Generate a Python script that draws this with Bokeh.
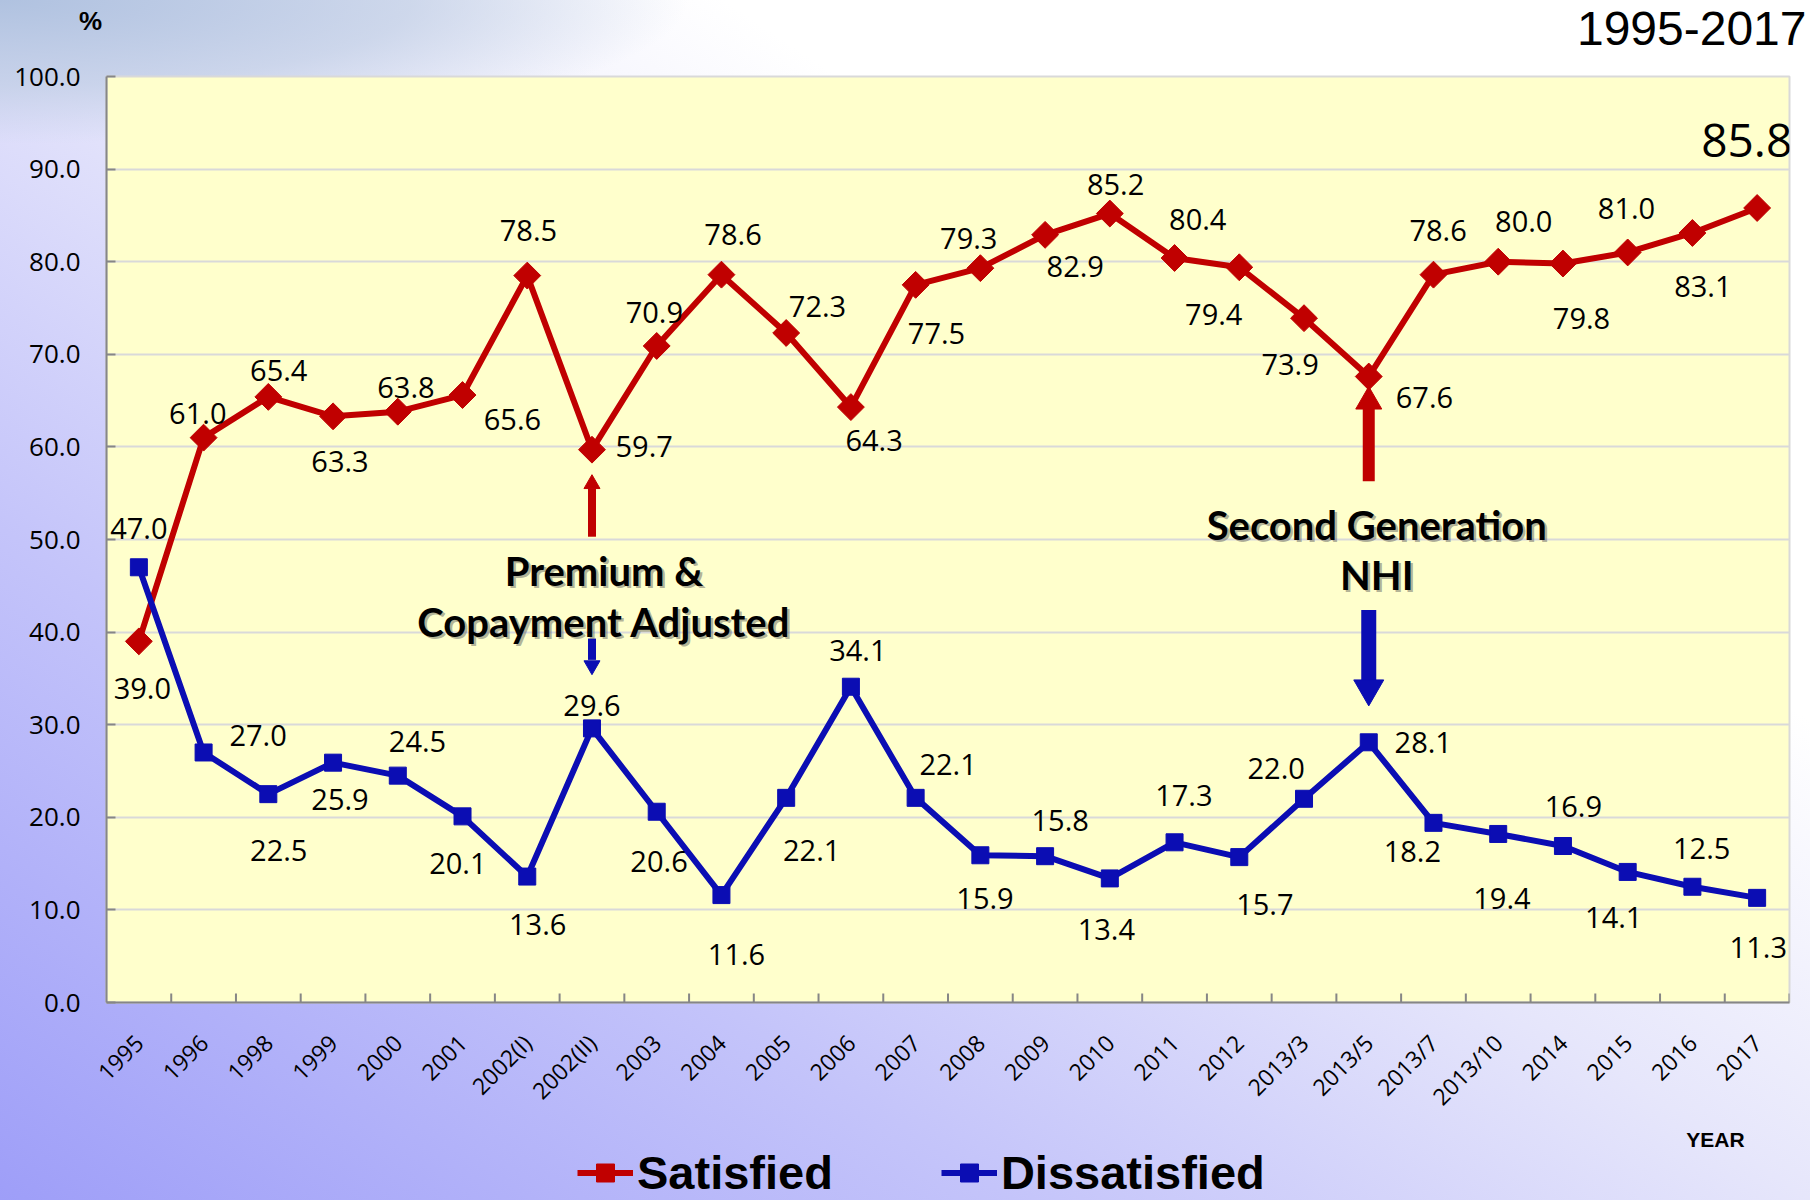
import math
from bokeh.plotting import figure
from bokeh.layouts import column
from bokeh.models import (FactorRange, Range1d, Legend, LegendItem,
                          ColumnDataSource, FixedTicker)
from bokeh.core.properties import value
from bokeh.embed import file_html
from bokeh.resources import INLINE

# ---------------- data ----------------
years = ["1995", "1996", "1998", "1999", "2000", "2001", "2002(I)", "2002(II)",
         "2003", "2004", "2005", "2006", "2007", "2008", "2009", "2010", "2011",
         "2012", "2013/3", "2013/5", "2013/7", "2013/10", "2014", "2015", "2016", "2017"]
satisfied = [39.0, 61.0, 65.4, 63.3, 63.8, 65.6, 78.5, 59.7, 70.9, 78.6, 72.3, 64.3,
             77.5, 79.3, 82.9, 85.2, 80.4, 79.4, 73.9, 67.6, 78.6, 80.0, 79.8, 81.0,
             83.1, 85.8]
dissatisfied = [47.0, 27.0, 22.5, 25.9, 24.5, 20.1, 13.6, 29.6, 20.6, 11.6, 22.1, 34.1,
                22.1, 15.9, 15.8, 13.4, 17.3, 15.7, 22.0, 28.1, 19.4, 18.2, 16.9, 14.1,
                12.5, 11.3]
y_ticks = [0, 10, 20, 30, 40, 50, 60, 70, 80, 90, 100]

# ------------- label placement (screen px offsets, reference scale) -------------
S = 1819 / 1568
sat_off = [(3, 41), (-5, -21), (9, -23), (6, 39), (7, -21), (43, 21), (1, -39), (45, -3),
           (-2, -29), (10, -35), (27, -23), (20, 29), (18, 42), (-10, -26), (26, 27),
           (5, -25), (20, -33), (-22, 41), (-12, 40), (48, 18), (4, -38), (22, -35),
           (16, 47), (-1, -38), (9, 46), (-9, -58)]
dis_off = [(0, -33), (47, -15), (9, 49), (6, 32), (17, -29), (-4, 41), (9, 41), (0, -20),
           (2, 43), (13, 51), (22, 45), (6, -31), (28, -29), (4, 37), (13, -31), (-3, 44),
           (8, -40), (22, 41), (-24, -26), (47, 0), (59, 65), (-74, 15), (9, -34),
           (-12, 39), (8, -33), (1, 43)]

RED = "#c00000"
BLUE = "#0b0db3"
LABEL_FONT = value("Open Sans")

W = 1810
TOP_H, MAIN_H = 56, 1071
LEG_H = 1200 - TOP_H - MAIN_H          # 73


def no_align(f):
    try:
        f.frame_align = False
    except AttributeError:
        pass
    return f


def strip(height, y_top):
    """A transparent helper strip whose data coordinates are page pixels."""
    f = figure(width=W, height=height, x_range=Range1d(0, W),
               y_range=Range1d(y_top + height, y_top), output_backend="svg",
               toolbar_location=None, x_axis_location=None, y_axis_location=None,
               min_border=0, min_border_left=0, min_border_right=0,
               min_border_top=0, min_border_bottom=0)
    f.grid.visible = False
    f.outline_line_color = None
    f.background_fill_alpha = 0
    f.border_fill_alpha = 0
    return no_align(f)


# ---------------- top strip: "%" and period ----------------
top = strip(TOP_H, 0)
top.text(x=[90], y=[20], text=["%"], text_font=value("Liberation Sans"), text_font_style="bold",
         text_font_size="26px", text_align="center", text_baseline="middle", text_color="#000000")
top.text(x=[1806], y=[28], text=["1995-2017"], text_font=value("Liberation Sans"),
         text_font_size="48px", text_align="right", text_baseline="middle", text_color="#000000")

# ---------------- main chart ----------------
p = figure(width=W, height=MAIN_H, x_range=FactorRange(*years), y_range=Range1d(0, 100),
           output_backend="svg", toolbar_location=None,
           min_border_left=106, min_border_right=21, min_border_top=20, min_border_bottom=125)
no_align(p)
p.background_fill_color = "#ffffcc"
p.border_fill_alpha = 0
p.outline_line_color = "#d9d9d9"
p.outline_line_width = 2

p.yaxis.ticker = FixedTicker(ticks=y_ticks)
p.yaxis.major_label_overrides = {t: f"{t:.1f}" for t in y_ticks}
p.yaxis.major_label_text_font = "Open Sans"
p.yaxis.major_label_text_font_size = "26px"
p.yaxis.major_label_text_color = "#000000"
p.yaxis.major_tick_in = 9
p.yaxis.major_tick_out = 0
p.yaxis.minor_tick_line_color = None
p.yaxis.major_label_standoff = 26
for ax in (p.yaxis[0], p.xaxis[0]):
    ax.axis_line_color = "#868686"
    ax.axis_line_width = 2
    ax.major_tick_line_color = "#868686"
    ax.major_tick_line_width = 2

p.xaxis.major_tick_in = 0
p.xaxis.major_tick_out = 0
p.xaxis.major_label_orientation = math.pi / 4
p.xaxis.major_label_text_font = "Open Sans"
p.xaxis.major_label_text_font_size = "23px"
p.xaxis.major_label_text_color = "#000000"
p.xaxis.major_label_standoff = 36

p.ygrid.grid_line_color = "#d9d9d9"
p.ygrid.grid_line_width = 2
p.xgrid.grid_line_color = None

# category-boundary ticks on the x axis (inward)
nb = len(years)
tick_h = 9 / 9.265
p.segment(x0=list(range(1, nb + 1)), y0=[0] * nb, x1=list(range(1, nb + 1)), y1=[tick_h] * nb,
          line_color="#868686", line_width=2)

# annotation arrows
arrow_x = ["2002(II)", "2002(II)", "2013/5", "2013/5"]
p.segment(x0=arrow_x, x1=arrow_x, y0=[50.3, 39.3, 56.3, 42.4], y1=[55.5, 37.0, 64.3, 34.6],
          line_color=[RED, BLUE, RED, BLUE], line_width=[8, 8, 12, 15])
p.scatter(x=["2002(II)", "2013/5"], y=[56.0, 64.9], marker="triangle", size=[16, 26],
          color=RED)
p.scatter(x=["2002(II)", "2013/5"], y=[36.4, 33.9], marker="inverted_triangle", size=[16, 30],
          color=BLUE)


def shadow_text(xs, ys, texts, dx):
    p.text(x=xs, y=ys, text=texts, x_offset=dx + 2.5, y_offset=2.5, text_align="center",
           text_baseline="middle", text_font=value("Lato"), text_font_style="bold",
           text_font_size="40px", text_color="#555555", text_alpha=0.45)
    p.text(x=xs, y=ys, text=texts, x_offset=dx, text_align="center",
           text_baseline="middle", text_font=value("Lato"), text_font_style="bold",
           text_font_size="40px", text_color="#000000")


shadow_text(["2002(II)", "2002(II)"], [46.6, 41.1], ["Premium &", "Copayment Adjusted"], 12)
shadow_text(["2013/5", "2013/5"], [51.6, 46.2], ["Second Generation", "NHI"], 8)

src = ColumnDataSource(dict(
    x=years, s=satisfied, d=dissatisfied,
    s_lab=[f"{v:.1f}" for v in satisfied], d_lab=[f"{v:.1f}" for v in dissatisfied],
    s_dx=[o[0] * S for o in sat_off], s_dy=[o[1] * S for o in sat_off],
    d_dx=[o[0] * S for o in dis_off], d_dy=[o[1] * S for o in dis_off],
    s_fs=["29px"] * (nb - 1) + ["46px"],
))

p.line("x", "s", source=src, color=RED, line_width=6)
p.scatter("x", "s", source=src, marker="square", angle=math.pi / 4, size=19, color=RED)
p.line("x", "d", source=src, color=BLUE, line_width=6)
p.scatter("x", "d", source=src, marker="square", size=17, color=BLUE)

p.text("x", "s", text="s_lab", source=src, x_offset="s_dx", y_offset="s_dy",
       text_align="center", text_baseline="middle", text_font=LABEL_FONT,
       text_font_size="s_fs", text_color="#000000")
p.text("x", "d", text="d_lab", source=src, x_offset="d_dx", y_offset="d_dy",
       text_align="center", text_baseline="middle", text_font=LABEL_FONT,
       text_font_size="29px", text_color="#000000")

# ---------------- bottom strip: axis title and legend ----------------
y0 = TOP_H + MAIN_H
bot = strip(LEG_H, y0)
bot.text(x=[1715], y=[1139], text=["YEAR"], text_font=value("Liberation Sans"),
         text_font_style="bold", text_font_size="21px", text_align="center",
         text_baseline="middle", text_color="#000000")
# legend proxies: real series styling, kept outside the visible strip
off_x, off_y = [-100, -90], [y0 - 50, y0 - 50]
ls_line = bot.line(x=off_x, y=off_y, color=RED, line_width=6)
ls_pts = bot.scatter(x=off_x, y=off_y, marker="square", angle=math.pi / 4, size=19, color=RED)
ld_line = bot.line(x=off_x, y=off_y, color=BLUE, line_width=6)
ld_pts = bot.scatter(x=off_x, y=off_y, marker="square", size=17, color=BLUE)
legend = Legend(items=[LegendItem(label="Satisfied", renderers=[ls_line, ls_pts]),
                       LegendItem(label="Dissatisfied", renderers=[ld_line, ld_pts])],
                orientation="horizontal", location=(577, 0),
                label_text_font="Liberation Sans",
                label_text_font_size="47px", label_text_font_style="bold",
                label_text_color="#000000", label_standoff=4,
                glyph_width=56, glyph_height=45, spacing=108, padding=0, margin=0,
                background_fill_alpha=0, border_line_alpha=0)
bot.add_layout(legend, "center")

layout = column(top, p, bot, spacing=0, styles={
    "background": "radial-gradient(ellipse 38% 12% at 0% 0%, rgba(176,194,224,1) 0%, rgba(190,204,228,0.7) 60%, rgba(190,204,228,0) 100%), "
                  "linear-gradient(to top right, #9e9ef8 0%, #c4c4fa 28%, #e6e6fb 50%, #ffffff 70%)"
})

open("out.html", "w").write(file_html(layout, INLINE))
